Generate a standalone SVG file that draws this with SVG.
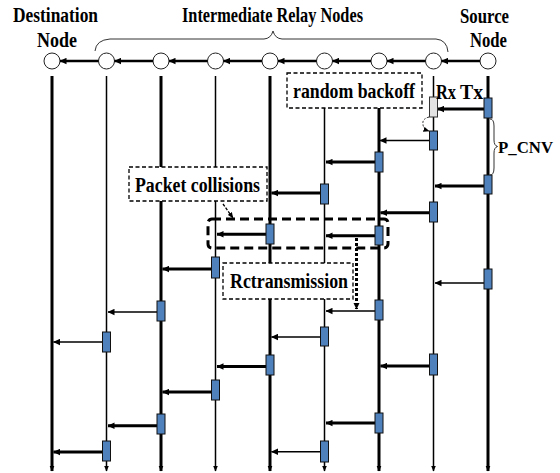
<svg xmlns="http://www.w3.org/2000/svg" width="560" height="473" viewBox="0 0 560 473">
<defs>
<marker id="ah" markerUnits="userSpaceOnUse" markerWidth="7" markerHeight="7" refX="6.5" refY="3.5" orient="auto">
<path d="M0,0.3 L7,3.5 L0,6.7 z" fill="#000"/>
</marker>
<marker id="ahs" markerUnits="userSpaceOnUse" markerWidth="6" markerHeight="6" refX="5.5" refY="3" orient="auto">
<path d="M0,0.5 L6,3 L0,5.5 z" fill="#000"/>
</marker>
</defs>
<style>
.bg{fill:#fff}
.node{fill:#fff;stroke:#222;stroke-width:1}
.llk{stroke:#000;stroke-width:3;marker-end:url(#ahs)}
.lln{stroke:#000;stroke-width:1.5;marker-end:url(#ahs)}
.act{fill:#4f81bd;stroke:#111;stroke-width:1}
.mk{stroke:#000;stroke-width:3;marker-end:url(#ah)}
.mn{stroke:#000;stroke-width:1.5;marker-end:url(#ah)}
.hd{stroke:#000;stroke-width:2.5;marker-end:url(#ah)}
.box{fill:#fff;stroke:#000;stroke-width:1.3;stroke-dasharray:4,2.5}
text{font-family:"Liberation Serif","Times New Roman",serif;font-weight:bold;font-size:20px;fill:#000}
.h{font-size:21.5px}
.p{font-size:17.5px}
</style>
<rect class="bg" x="0" y="0" width="560" height="473"/>

<g id="n0">
<line class="llk" x1="52" y1="76" x2="52" y2="471"/>
<circle class="node" cx="52" cy="61" r="8"/>
<text class="h" x="13" y="22" textLength="85" lengthAdjust="spacingAndGlyphs">Destination</text>
<text class="h" x="37" y="47" textLength="40" lengthAdjust="spacingAndGlyphs">Node</text>
</g>
<g id="n1">
<line class="lln" x1="106.5" y1="76" x2="106.5" y2="471"/>
<circle class="node" cx="106.5" cy="61" r="8"/>
</g>
<g id="n2">
<line class="llk" x1="161" y1="76" x2="161" y2="471"/>
<circle class="node" cx="161" cy="61" r="8"/>
</g>
<g id="n3">
<line class="lln" x1="215.5" y1="76" x2="215.5" y2="471"/>
<circle class="node" cx="215.5" cy="61" r="8"/>
</g>
<g id="n4">
<line class="llk" x1="270" y1="76" x2="270" y2="471"/>
<circle class="node" cx="270" cy="61" r="8"/>
</g>
<g id="n5">
<line class="lln" x1="324.5" y1="76" x2="324.5" y2="471"/>
<circle class="node" cx="324.5" cy="61" r="8"/>
</g>
<g id="n6">
<line class="llk" x1="379" y1="76" x2="379" y2="471"/>
<circle class="node" cx="379" cy="61" r="8"/>
</g>
<g id="n7">
<line class="lln" x1="433.5" y1="76" x2="433.5" y2="471"/>
<circle class="node" cx="433.5" cy="61" r="8"/>
</g>
<g id="n8">
<line class="llk" x1="488" y1="76" x2="488" y2="471"/>
<circle class="node" cx="488" cy="61" r="8"/>
<text class="h" x="460" y="23" textLength="49" lengthAdjust="spacingAndGlyphs">Source</text>
<text class="h" x="470" y="47" textLength="37" lengthAdjust="spacingAndGlyphs">Node</text>
</g>

<g id="relay-label">
<text class="h" x="182" y="22" textLength="181" lengthAdjust="spacingAndGlyphs">Intermediate Relay Nodes</text>
<path d="M95,51 Q96,40 110,39 L264,39 Q271,38.5 273,31 Q275,38.5 282,39 L436,39 Q447,40 448,52" fill="none" stroke="#333" stroke-width="1"/>
</g>

<g id="connectors">
<line class="hd" x1="480" y1="61" x2="441.5" y2="61"/>
<line class="hd" x1="425.5" y1="61" x2="387" y2="61"/>
<line class="hd" x1="371" y1="61" x2="332.5" y2="61"/>
<line class="hd" x1="316.5" y1="61" x2="278" y2="61"/>
<line class="hd" x1="262" y1="61" x2="223.5" y2="61"/>
<line class="hd" x1="207.5" y1="61" x2="169" y2="61"/>
<line class="hd" x1="153" y1="61" x2="114.5" y2="61"/>
<line class="hd" x1="98.5" y1="61" x2="60" y2="61"/>

<line class="mk" x1="484" y1="109" x2="437.5" y2="109"/>
<line class="mn" x1="429.5" y1="140.5" x2="380" y2="140.5"/>
<line class="mk" x1="375" y1="162" x2="326" y2="162"/>
<line class="mk" x1="484" y1="186" x2="435" y2="186"/>
<line class="mk" x1="320.5" y1="193" x2="271.5" y2="193"/>
<line class="mk" x1="429.5" y1="212.7" x2="380.5" y2="212.7"/>
<line class="mk" x1="266" y1="234.3" x2="217" y2="234.3"/>
<line class="mk" x1="375" y1="235.7" x2="326" y2="235.7"/>
<line class="mk" x1="211.5" y1="269" x2="162.5" y2="269"/>
<line class="mn" x1="484" y1="283" x2="435" y2="283"/>
<line class="mn" x1="375" y1="311" x2="326" y2="311"/>
<line class="mn" x1="157" y1="312" x2="108" y2="312"/>
<line class="mn" x1="320.5" y1="337" x2="271.5" y2="337"/>
<line class="mn" x1="102.5" y1="342" x2="53.5" y2="342"/>
<line class="mk" x1="429.5" y1="366" x2="380.5" y2="366"/>
<line class="mk" x1="266" y1="366.5" x2="217" y2="366.5"/>
<line class="mk" x1="211.5" y1="392" x2="162.5" y2="392"/>
<line class="mk" x1="375" y1="423" x2="326" y2="423"/>
<line class="mk" x1="157" y1="425.7" x2="108" y2="425.7"/>
<line class="mn" x1="320.5" y1="451.7" x2="271.5" y2="451.7"/>
<line class="mk" x1="102.5" y1="452" x2="53.5" y2="452"/>

<path d="M429,117 Q422,119 423,124 Q423,129 429,131" fill="none" stroke="#222" stroke-width="1" stroke-dasharray="2,1.5" marker-end="url(#ahs)"/>
</g>

<g id="activations">
<rect x="429.5" y="97" width="8" height="20" fill="#e3e3e3" stroke="#333" stroke-width="1"/>
<rect class="act" x="484" y="98" width="8" height="20"/>
<rect class="act" x="429.5" y="131" width="8" height="19"/>
<rect class="act" x="375" y="152" width="8" height="20"/>
<rect class="act" x="484" y="175" width="8" height="19"/>
<rect class="act" x="320.5" y="184" width="8" height="20"/>
<rect class="act" x="429.5" y="202" width="8" height="20"/>
<rect class="act" x="266" y="224" width="8" height="20"/>
<rect class="act" x="375" y="226" width="8" height="19"/>
<rect class="act" x="211.5" y="257" width="8" height="21"/>
<rect class="act" x="484" y="269" width="8" height="20"/>
<rect class="act" x="375" y="300" width="8" height="20"/>
<rect class="act" x="157" y="301" width="8" height="20"/>
<rect class="act" x="320.5" y="327" width="8" height="19"/>
<rect class="act" x="102.5" y="332" width="8" height="20"/>
<rect class="act" x="429.5" y="354" width="8" height="21"/>
<rect class="act" x="266" y="355" width="8" height="20"/>
<rect class="act" x="211.5" y="380" width="8" height="20"/>
<rect class="act" x="375" y="413" width="8" height="20"/>
<rect class="act" x="157" y="414" width="8" height="20"/>
<rect class="act" x="320.5" y="441" width="8" height="21"/>
<rect class="act" x="102.5" y="441" width="8" height="20"/>
</g>

<g id="annotations">
<rect class="box" x="287" y="73" width="135" height="35"/>
<text x="293" y="98" textLength="122" lengthAdjust="spacingAndGlyphs">random backoff</text>
<text x="436" y="99" textLength="20" lengthAdjust="spacingAndGlyphs">Rx</text>
<text x="460" y="99" textLength="23" lengthAdjust="spacingAndGlyphs">Tx</text>
<path d="M490,119 Q494,119 494,126 L494,140 Q494,145.5 497.5,146.5 Q494,147.5 494,153 L494,168 Q494,175 490,175" fill="none" stroke="#333" stroke-width="1"/>
<text class="p" x="498" y="153" textLength="55" lengthAdjust="spacingAndGlyphs">P_CNV</text>

<rect class="box" x="129" y="167" width="138" height="34"/>
<text x="135" y="192" textLength="125" lengthAdjust="spacingAndGlyphs">Packet collisions</text>
<line x1="223" y1="204" x2="233" y2="218" stroke="#000" stroke-width="1.3" stroke-dasharray="3,1.5" marker-end="url(#ahs)"/>

<rect x="208" y="219" width="180" height="29" rx="4" fill="none" stroke="#000" stroke-width="3" stroke-dasharray="9,5"/>

<rect class="box" x="223" y="263" width="130" height="36"/>
<text x="230" y="288" textLength="118" lengthAdjust="spacingAndGlyphs">Rctransmission</text>
<line x1="356.5" y1="238" x2="356.5" y2="309" stroke="#000" stroke-width="3" stroke-dasharray="3,2" marker-end="url(#ah)"/>
</g>
</svg>
